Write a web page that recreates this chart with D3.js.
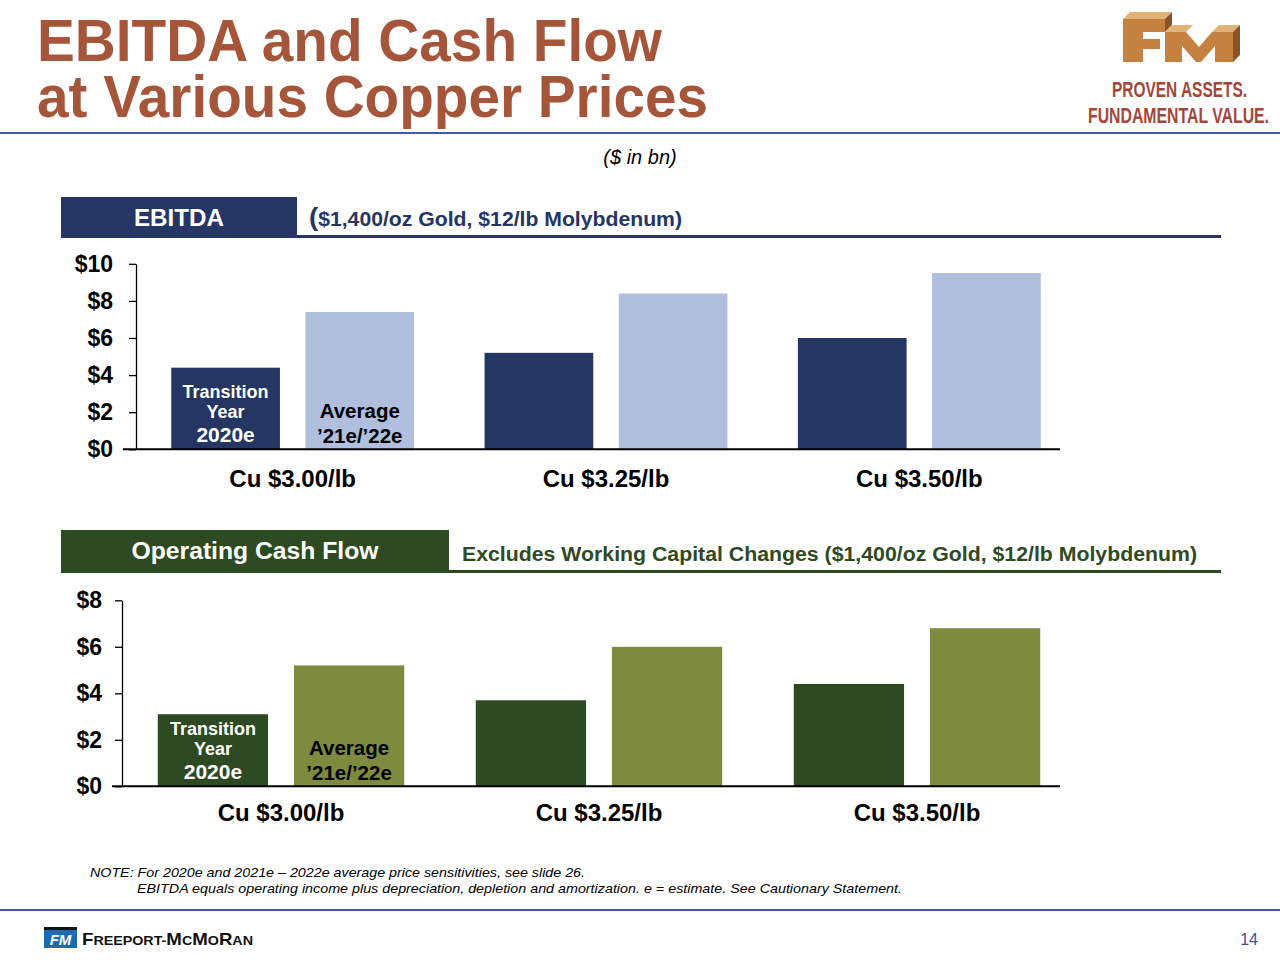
<!DOCTYPE html>
<html>
<head>
<meta charset="utf-8">
<script src="https://cdn.jsdelivr.net/npm/d3@7/dist/d3.min.js"></script>
<style>
  html, body { margin: 0; padding: 0; background: #ffffff; }
  svg { display: block; font-family: "Liberation Sans", Arial, Helvetica, sans-serif; }
</style>
</head>
<body>
<svg id="chart" width="1280" height="960"></svg>
<script>
// ---------------- DATA ----------------
const categories = ["Cu $3.00/lb", "Cu $3.25/lb", "Cu $3.50/lb"];
const seriesKeys = ["2020e", "avg2122"];
const ebitda2020 = [4.4, 5.2, 6.0];
const ebitdaAvg = [7.4, 8.4, 9.5];
const ocf2020 = [3.1, 3.7, 4.4];
const ocfAvg = [5.2, 6.0, 6.8];
const ebitdaTicks = [0, 2, 4, 6, 8, 10];
const ocfTicks = [0, 2, 4, 6, 8];
const labels2020 = ["Transition", "Year", "2020e"];
const labelsAvg = ["Average", "\u201921e/\u201922e"];

// ---------------- SETUP ----------------
const svg = d3.select("#chart");
const FONT = '"Liberation Sans", Arial, Helvetica, sans-serif';
const NARROW = '"Liberation Sans Narrow", "Liberation Sans", Arial, sans-serif';
const TITLE_C = "#a5553a";
const RULE_C = "#4558a2";

// Title
svg.append("text").attr("x", 37).attr("y", 61)
  .attr("font-size", 60).attr("font-weight", "bold").attr("fill", TITLE_C)
  .attr("textLength", 625).attr("lengthAdjust", "spacingAndGlyphs")
  .text("EBITDA and Cash Flow");
svg.append("text").attr("x", 37).attr("y", 117)
  .attr("font-size", 60).attr("font-weight", "bold").attr("fill", TITLE_C)
  .attr("textLength", 671).attr("lengthAdjust", "spacingAndGlyphs")
  .text("at Various Copper Prices");

// Rule under title
svg.append("rect").attr("x", 0).attr("y", 132).attr("width", 1280).attr("height", 2).attr("fill", RULE_C);

// Logo (top right)
const logo = svg.append("g");
const front = "#c4813f", top_ = "#e2b277", side = "#8a5326";
// F
logo.append("polygon").attr("points", "1130,12 1172,12 1165,19 1123,19").attr("fill", top_);
logo.append("polygon").attr("points", "1165,19 1172,12 1172,25 1165,32").attr("fill", side);
logo.append("polygon").attr("points", "1123,19 1165,19 1165,32 1143,32 1143,39 1160,39 1160,49 1143,49 1143,62 1123,62").attr("fill", front);
// M
logo.append("polygon").attr("points", "1172,25 1193,25 1186,32 1165,32").attr("fill", top_);
logo.append("polygon").attr("points", "1219,25 1240,25 1233,32 1212,32").attr("fill", top_);
logo.append("polygon").attr("points", "1233,32 1240,25 1240,55 1233,62").attr("fill", side);
logo.append("polygon").attr("points", "1165,32 1186,32 1199,47 1212,32 1233,32 1233,62 1215,62 1215,46 1201,62 1196,62 1182,46 1182,62 1165,62").attr("fill", front);
logo.append("text").attr("x", 1179.5).attr("y", 97).attr("text-anchor", "middle").attr("font-size", 22).attr("font-family", NARROW)
  .attr("font-weight", "bold").attr("fill", "#a3463a")
  .attr("textLength", 135).attr("lengthAdjust", "spacingAndGlyphs").text("PROVEN ASSETS.");
logo.append("text").attr("x", 1178.5).attr("y", 123).attr("text-anchor", "middle").attr("font-size", 22).attr("font-family", NARROW)
  .attr("font-weight", "bold").attr("fill", "#a3463a")
  .attr("textLength", 181).attr("lengthAdjust", "spacingAndGlyphs").text("FUNDAMENTAL VALUE.");

// Subtitle
svg.append("text").attr("x", 640).attr("y", 164).attr("text-anchor", "middle")
  .attr("font-size", 20).attr("font-style", "italic").attr("fill", "#000")
  .text("($ in bn)");

// ---------------- SECTION HEADERS ----------------
function header(cfg) {
  svg.append("rect").attr("x", 61).attr("y", cfg.top).attr("width", cfg.boxW).attr("height", cfg.boxH).attr("fill", cfg.dark);
  svg.append("rect").attr("x", 61 + cfg.boxW).attr("y", cfg.top + cfg.boxH - 3).attr("width", 1221 - 61 - cfg.boxW).attr("height", 3).attr("fill", cfg.dark);
  svg.append("text").attr("x", 61 + cfg.boxW / 2).attr("y", cfg.titleY).attr("text-anchor", "middle")
    .attr("font-size", 23).attr("font-weight", "bold").attr("fill", "#fff")
    .attr("textLength", cfg.titleLen).attr("lengthAdjust", "spacingAndGlyphs").text(cfg.title);
  const t = svg.append("text").attr("x", cfg.subX).attr("y", cfg.subY)
    .attr("font-size", 20).attr("font-weight", "bold").attr("fill", cfg.dark)
    .attr("textLength", cfg.subLen).attr("lengthAdjust", "spacingAndGlyphs");
  if (cfg.bigParen) {
    t.append("tspan").attr("font-size", 26).text("(");
    t.append("tspan").text(cfg.sub.slice(1));
  } else {
    t.text(cfg.sub);
  }
}
header({ top: 197, boxW: 236, boxH: 41, dark: "#253564", title: "EBITDA", titleY: 226, titleLen: 90,
  sub: "($1,400/oz Gold, $12/lb Molybdenum)", subX: 309, subY: 226, subLen: 373, bigParen: true });
header({ top: 530, boxW: 388, boxH: 43, dark: "#2e4a22", title: "Operating Cash Flow", titleY: 559, titleLen: 247,
  sub: "Excludes Working Capital Changes ($1,400/oz Gold, $12/lb Molybdenum)", subX: 462, subY: 561, subLen: 735, bigParen: false });

// ---------------- CHARTS ----------------
function drawChart(cfg) {
  const g = svg.append("g");
  const y = d3.scaleLinear().domain([0, cfg.yMax]).range([cfg.y0, cfg.yTop]);
  const x = d3.scaleBand().domain(categories).range([cfg.axisX, 1076]).paddingInner(0.225).paddingOuter(0.1125);
  const xs = d3.scaleBand().domain(seriesKeys).range([0, x.bandwidth()]).paddingInner(0.19).paddingOuter(0);

  const rows = categories.map((c, i) => ({ cat: c, values: [
    { key: seriesKeys[0], v: cfg.v2020[i] }, { key: seriesKeys[1], v: cfg.vAvg[i] }] }));

  const groups = g.selectAll("g.grp").data(rows).join("g").attr("class", "grp")
    .attr("transform", d => `translate(${x(d.cat)},0)`);
  groups.selectAll("rect").data(d => d.values).join("rect")
    .attr("x", d => xs(d.key)).attr("width", xs.bandwidth())
    .attr("y", d => y(d.v)).attr("height", d => y(0) - y(d.v))
    .attr("fill", d => d.key === seriesKeys[0] ? cfg.cDark : cfg.cLight);

  // Y axis
  const ya = d3.axisLeft(y).tickValues(cfg.ticks).tickSize(7).tickSizeOuter(0).tickPadding(cfg.tickPad)
    .tickFormat(d => "$" + d);
  const yg = g.append("g").attr("transform", `translate(${cfg.axisX},0)`).call(ya);
  yg.select(".domain").attr("stroke", "#000").attr("stroke-width", 1.3);
  yg.selectAll(".tick line").attr("stroke", "#000").attr("stroke-width", 1.3);
  yg.selectAll(".tick text").attr("font-family", FONT).attr("font-size", 23).attr("font-weight", "bold").attr("fill", "#000");

  // Baseline
  g.append("line").attr("x1", cfg.baseX1).attr("x2", 1060).attr("y1", y(0)).attr("y2", y(0))
    .attr("stroke", "#000").attr("stroke-width", 2);

  // X axis (category labels)
  const xa = d3.axisBottom(x).tickSize(0).tickPadding(cfg.catPad);
  const xg = g.append("g").attr("transform", `translate(0,${y(0)})`).call(xa);
  xg.select(".domain").remove();
  xg.selectAll(".tick text").attr("font-family", FONT).attr("font-size", 24).attr("font-weight", "bold").attr("fill", "#000");

  // In-bar labels (first category)
  const c0 = categories[0];
  const cx1 = x(c0) + xs(seriesKeys[0]) + xs.bandwidth() / 2;
  const cx2 = x(c0) + xs(seriesKeys[1]) + xs.bandwidth() / 2;
  const off1 = [-51.5, -31.5, -7.5], sz1 = [18, 18, 21];
  labels2020.forEach((t, i) => {
    g.append("text").attr("x", cx1).attr("y", y(0) + off1[i]).attr("text-anchor", "middle")
      .attr("font-size", sz1[i]).attr("font-weight", "bold").attr("fill", "#fff").text(t);
  });
  const off2 = [-31.5, -6.5];
  labelsAvg.forEach((t, i) => {
    g.append("text").attr("x", cx2).attr("y", y(0) + off2[i]).attr("text-anchor", "middle")
      .attr("font-size", 20.5).attr("font-weight", "bold").attr("fill", "#000").text(t);
  });
}

drawChart({ y0: 449.3, yTop: 263.8, yMax: 10, ticks: ebitdaTicks, axisX: 136, baseX1: 123, tickPad: 16, catPad: 21,
  v2020: ebitda2020, vAvg: ebitdaAvg, cDark: "#253564", cLight: "#b0bfde" });
drawChart({ y0: 786.3, yTop: 600.3, yMax: 8, ticks: ocfTicks, axisX: 122, baseX1: 112, tickPad: 13, catPad: 18,
  v2020: ocf2020, vAvg: ocfAvg, cDark: "#2e4a22", cLight: "#7e8b3f" });

// ---------------- FOOTNOTE ----------------
svg.append("text").attr("x", 90).attr("y", 877).attr("font-size", 13.5).attr("font-style", "italic").attr("fill", "#000")
  .attr("textLength", 495).attr("lengthAdjust", "spacingAndGlyphs")
  .text("NOTE: For 2020e and 2021e \u2013 2022e average price sensitivities, see slide 26.");
svg.append("text").attr("x", 137).attr("y", 893).attr("font-size", 13.5).attr("font-style", "italic").attr("fill", "#000")
  .attr("textLength", 765).attr("lengthAdjust", "spacingAndGlyphs")
  .text("EBITDA equals operating income plus depreciation, depletion and amortization. e = estimate. See Cautionary Statement.");

// Bottom rule
svg.append("rect").attr("x", 0).attr("y", 909).attr("width", 1280).attr("height", 2).attr("fill", RULE_C);

// Bottom logo
svg.append("rect").attr("x", 44).attr("y", 927).attr("width", 33).attr("height", 3).attr("fill", "#111");
svg.append("rect").attr("x", 44).attr("y", 930).attr("width", 33).attr("height", 18).attr("fill", "#1a6bb4");
svg.append("text").attr("x", 60.5).attr("y", 945).attr("text-anchor", "middle").attr("font-size", 15)
  .attr("font-weight", "bold").attr("font-style", "italic").attr("fill", "#fff").text("FM");
const brand = svg.append("text").attr("x", 82).attr("y", 945).attr("font-weight", "bold").attr("fill", "#111")
  .attr("textLength", 171).attr("lengthAdjust", "spacingAndGlyphs");
[["F", 17], ["REEPORT-", 13], ["M", 17], ["C", 13], ["M", 17], ["O", 13], ["R", 17], ["AN", 13]].forEach(([t, s]) => {
  brand.append("tspan").attr("font-size", s).text(t);
});

// Page number
svg.append("text").attr("x", 1258).attr("y", 945).attr("text-anchor", "end").attr("font-size", 16)
  .attr("fill", "#3d4f9a").text("14");
</script>
</body>
</html>
